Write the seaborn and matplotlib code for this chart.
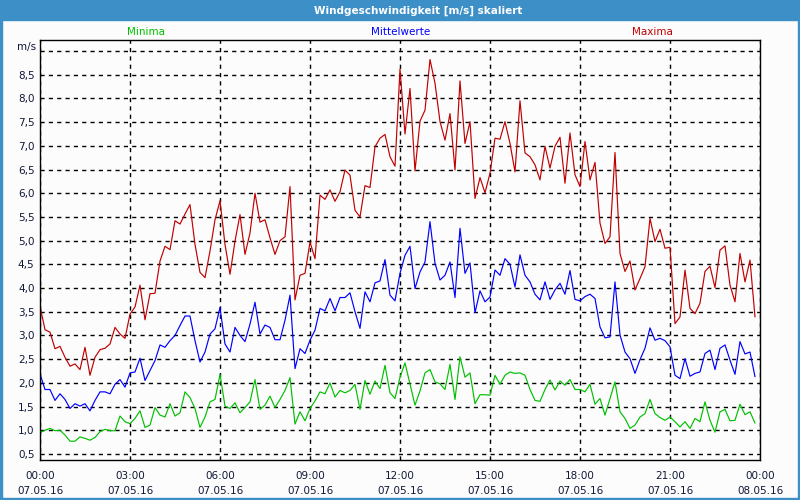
import numpy as np
import pandas as pd
import matplotlib
matplotlib.use("Agg")
import matplotlib.pyplot as plt
import seaborn as sns
from matplotlib.patches import Rectangle

# 10-Minuten-Werte, 07.05.16 00:00 bis 23:50
minuten = np.arange(144) * 10

maxima = [3.62, 3.12, 3.07, 2.72, 2.77, 2.54, 2.35, 2.40, 2.28, 2.75,
          2.16, 2.54, 2.70, 2.73, 2.82, 3.17, 3.03, 2.94, 3.45, 3.60,
          4.06, 3.33, 3.88, 3.89, 4.57, 4.88, 4.81, 5.42, 5.35, 5.56,
          5.76, 4.92, 4.33, 4.22, 4.78, 5.44, 5.84, 4.92, 4.29, 4.99,
          5.55, 4.71, 5.16, 6.00, 5.39, 5.44, 5.06, 4.71, 5.00, 5.08,
          6.14, 3.75, 4.27, 4.31, 4.97, 4.62, 5.96, 5.87, 6.07, 5.83,
          6.03, 6.49, 6.38, 5.64, 5.50, 6.16, 6.12, 6.98, 7.16, 7.24,
          6.77, 6.57, 8.62, 7.25, 8.21, 6.47, 7.52, 7.75, 8.82, 8.32,
          7.51, 7.12, 7.68, 6.49, 8.37, 7.05, 7.51, 5.89, 6.33, 6.01,
          6.42, 7.16, 7.14, 7.51, 7.05, 6.45, 7.95, 6.85, 6.77, 6.60,
          6.28, 6.99, 6.53, 6.99, 7.18, 6.21, 7.27, 6.39, 6.14, 7.09,
          6.28, 6.65, 5.37, 4.94, 5.08, 6.86, 4.73, 4.35, 4.57, 3.96,
          4.20, 4.45, 5.47, 4.98, 5.24, 4.84, 4.86, 3.25, 3.39, 4.38,
          3.57, 3.46, 3.68, 4.35, 4.46, 4.01, 4.80, 4.89, 4.06, 3.71,
          4.73, 4.13, 4.59, 3.39]

mittelwerte = [2.19, 1.86, 1.86, 1.63, 1.77, 1.65, 1.46, 1.56, 1.51, 1.56,
               1.41, 1.63, 1.81, 1.81, 1.77, 1.97, 2.07, 1.91, 2.21, 2.23,
               2.52, 2.05, 2.26, 2.47, 2.80, 2.75, 2.89, 3.00, 3.21, 3.41,
               3.41, 2.89, 2.44, 2.65, 3.03, 3.14, 3.59, 2.82, 2.65, 3.17,
               3.00, 2.87, 3.24, 3.70, 3.03, 3.22, 3.17, 2.91, 2.91, 3.32,
               3.85, 2.30, 2.72, 2.62, 2.90, 3.11, 3.57, 3.52, 3.78, 3.52,
               3.80, 3.80, 3.90, 3.50, 3.15, 3.92, 3.71, 4.11, 4.15, 4.60,
               3.85, 3.73, 4.31, 4.69, 4.88, 3.99, 4.34, 4.55, 5.40, 4.52,
               4.17, 4.27, 4.55, 3.80, 5.26, 4.31, 4.53, 3.48, 3.94, 3.71,
               3.81, 4.38, 4.27, 4.62, 4.50, 4.02, 4.70, 4.27, 4.13, 3.87,
               3.75, 4.13, 3.76, 3.96, 4.10, 3.87, 4.37, 3.76, 3.73, 3.82,
               3.87, 3.78, 3.18, 2.95, 2.97, 4.13, 3.01, 2.65, 2.51, 2.20,
               2.49, 2.73, 3.16, 2.90, 2.94, 2.89, 2.76, 2.16, 2.09, 2.51,
               2.14, 2.20, 2.23, 2.62, 2.69, 2.28, 2.73, 2.80, 2.48, 2.18,
               2.87, 2.61, 2.65, 2.13]

minima = [0.95, 1.00, 1.04, 0.99, 1.00, 0.90, 0.77, 0.77, 0.86, 0.83,
          0.79, 0.85, 0.97, 1.02, 0.99, 0.99, 1.30, 1.18, 1.14, 1.25,
          1.41, 1.06, 1.11, 1.48, 1.32, 1.28, 1.56, 1.30, 1.37, 1.81,
          1.69, 1.46, 1.06, 1.28, 1.60, 1.65, 2.18, 1.51, 1.46, 1.58,
          1.37, 1.48, 1.60, 2.07, 1.44, 1.53, 1.72, 1.48, 1.65, 1.84,
          2.11, 1.13, 1.39, 1.20, 1.46, 1.62, 1.81, 1.77, 2.00, 1.70,
          1.84, 1.79, 1.84, 1.97, 1.44, 2.05, 1.76, 2.04, 1.88, 2.37,
          1.79, 1.67, 2.12, 2.42, 1.98, 1.53, 1.83, 2.21, 2.28, 2.02,
          1.98, 1.86, 2.39, 1.65, 2.55, 2.12, 2.21, 1.56, 1.75, 1.75,
          1.74, 2.16, 1.97, 2.16, 2.23, 2.20, 2.21, 2.16, 1.86, 1.63,
          1.61, 1.86, 2.06, 1.85, 2.04, 1.95, 2.07, 1.86, 1.86, 1.81,
          1.97, 1.55, 1.67, 1.32, 1.67, 2.02, 1.39, 1.25, 1.04, 1.11,
          1.28, 1.35, 1.65, 1.35, 1.27, 1.21, 1.28, 1.18, 1.07, 1.18,
          1.04, 1.25, 1.18, 1.60, 1.21, 0.96, 1.39, 1.44, 1.20, 1.21,
          1.55, 1.33, 1.39, 1.15]

reihen = ["Minima", "Mittelwerte", "Maxima"]
farben = {"Minima": "#00c000", "Mittelwerte": "#0000ff", "Maxima": "#c00000"}

x_labels = ["00:00\n07.05.16", "03:00\n07.05.16", "06:00\n07.05.16",
            "09:00\n07.05.16", "12:00\n07.05.16", "15:00\n07.05.16",
            "18:00\n07.05.16", "21:00\n07.05.16", "00:00\n08.05.16"]
y_werte = np.arange(0.5, 9.01, 0.5)

df = pd.DataFrame({"Stunde": minuten / 60, "Minima": minima,
                   "Mittelwerte": mittelwerte, "Maxima": maxima})
df = df.melt(id_vars="Stunde", var_name="Reihe", value_name="Wert")

sns.set_style("white")
plt.rcParams["font.family"] = ["DejaVu Sans"]

blau = "#3d8fc7"
fig = plt.figure(figsize=(8, 5), dpi=100, facecolor="#fcfcfc")

# Fensterrahmen und Titelleiste
fig.patches.append(Rectangle((0, 1 - 20 / 500), 1, 20 / 500, transform=fig.transFigure,
                             color=blau, zorder=0))
fig.patches.append(Rectangle((0, 0), 1.5 / 800, 1, transform=fig.transFigure, color=blau))
fig.patches.append(Rectangle((1 - 2 / 800, 0), 2 / 800, 1, transform=fig.transFigure, color=blau))
fig.patches.append(Rectangle((0, 0), 1, 2.5 / 500, transform=fig.transFigure, color=blau))
fig.text(418 / 800, 1 - 10.5 / 500, "Windgeschwindigkeit [m/s] skaliert", color="white",
         fontsize=7.5, fontweight="bold", ha="center", va="center")

ax = fig.add_axes([40 / 800, 40 / 500, 720 / 800, 420 / 500])
ax.set_facecolor("#fcfcfc")
sns.lineplot(data=df, x="Stunde", y="Wert", hue="Reihe", hue_order=reihen,
             palette=farben, linewidth=0.85, legend=False, ax=ax)

ax.set_xlim(0, 24)
ax.set_ylim(0.373, 9.232)
ax.set_xticks(np.arange(0, 25, 3))
ax.set_xticklabels(x_labels, linespacing=1.6)
ax.set_xticks(np.arange(0, 25, 1), minor=True)
ax.set_yticks(y_werte)
ax.set_yticklabels([f"{v:.1f}".replace(".", ",") if v < 9 else "" for v in y_werte])
ax.tick_params(axis="both", which="major", labelsize=7.5, colors="black",
               labelcolor="#101838", length=3, width=1, pad=4, direction="out")
ax.tick_params(axis="x", which="minor", length=3, width=1, color="black")
ax.tick_params(axis="y", length=0)
ax.tick_params(axis="x", which="major", pad=5)
ax.set_xlabel("")
ax.set_ylabel("")

ax.grid(True, which="major", linestyle=(0, (3, 3)), color="black", linewidth=1)
ax.set_axisbelow(True)
for s in ax.spines.values():
    s.set_color("black")
    s.set_linewidth(1)

fig.text(36 / 800, 1 - 47 / 500, "m/s", fontsize=7.5, color="#101838",
         ha="right", va="center")
fig.text(146 / 800, 1 - 32 / 500, "Minima", fontsize=7.5, color="#00c000",
         ha="center", va="center")
fig.text(401 / 800, 1 - 32 / 500, "Mittelwerte", fontsize=7.5, color="#0000ff",
         ha="center", va="center")
fig.text(652 / 800, 1 - 32 / 500, "Maxima", fontsize=7.5, color="#c00000",
         ha="center", va="center")

fig.savefig("out.png", dpi=100, facecolor=fig.get_facecolor())
